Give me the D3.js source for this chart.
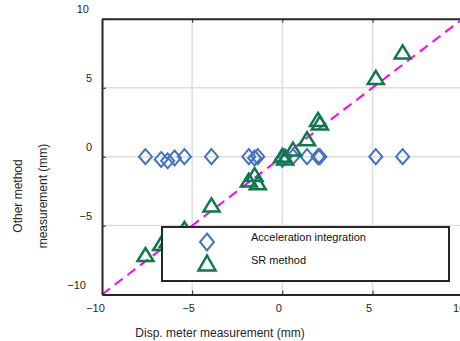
<!DOCTYPE html>
<html>
<head>
<meta charset="utf-8">
<script src="https://cdn.jsdelivr.net/npm/d3@7"></script>
<style>
  body { margin: 0; background: #fff; }
  svg { display: block; font-family: "Liberation Sans", Arial, sans-serif; }
</style>
</head>
<body>
<script>
// displacement meter readings (x) and the two other methods (y)
var dispMeter   = [-7.59, -6.72, -6.36, -5.98, -5.43, -3.93, -1.86, -1.54, -1.36, 0.0, 0.15, 0.59, 1.37, 1.98, 2.08, 5.18, 6.67];
var accelInteg  = [0, -0.2, -0.3, -0.1, 0, 0, 0, -0.1, 0, -0.2, 0, 0, 0, 0, 0, 0, 0];
var srMethod    = [-7.1, -6.3, -6.1, -5.8, -5.2, -3.5, -1.7, -1.3, -1.9, 0.1, -0.1, 0.55, 1.3, 2.7, 2.45, 5.75, 7.6];
var tickVals    = [-10, -5, 0, 5, 10];
var seriesNames = ['Acceleration integration', 'SR method'];

var width = 460, height = 341;
var ink = '#262626';

var x = d3.scaleLinear().domain([-10, 10]).range([102, 462.7]),
    y = d3.scaleLinear().domain([-10, 10]).range([294.5, 18.8]);

var svg = d3.select('body').append('svg')
    .attr('width', width)
    .attr('height', height);

// grid
svg.append('g').selectAll('line.gx')
    .data(tickVals.slice(1, 4))
  .enter().append('line')
    .attr('x1', function(d) { return x(d); })
    .attr('x2', function(d) { return x(d); })
    .attr('y1', y(10)).attr('y2', y(-10))
    .attr('stroke', '#dedede').attr('stroke-width', 1.5);
svg.append('g').selectAll('line.gy')
    .data(tickVals.slice(1, 4))
  .enter().append('line')
    .attr('y1', function(d) { return y(d); })
    .attr('y2', function(d) { return y(d); })
    .attr('x1', x(-10)).attr('x2', x(10))
    .attr('stroke', '#dedede').attr('stroke-width', 1.5);

// reference line y = x
svg.append('line')
    .attr('x1', x(-10)).attr('y1', y(-10))
    .attr('x2', x(10)).attr('y2', y(10))
    .attr('stroke', '#ff00ff').attr('stroke-width', 2)
    .attr('stroke-dasharray', '10,6');

var diamond = function(cx, cy, w, h) {
  return 'M' + cx + ',' + (cy - h / 2) + 'L' + (cx + w / 2) + ',' + cy +
         'L' + cx + ',' + (cy + h / 2) + 'L' + (cx - w / 2) + ',' + cy + 'Z';
};
var triangle = function(cx, cy, w, h) {
  return 'M' + cx + ',' + (cy - h / 2) + 'L' + (cx + w / 2) + ',' + (cy + h / 2) +
         'L' + (cx - w / 2) + ',' + (cy + h / 2) + 'Z';
};

// acceleration integration markers
svg.append('g').selectAll('path')
    .data(dispMeter)
  .enter().append('path')
    .attr('d', function(d, i) { return diamond(x(d), y(accelInteg[i]), 13, 15); })
    .attr('fill', 'none').attr('stroke', '#4472c4').attr('stroke-width', 2);

// SR method markers
svg.append('g').selectAll('path')
    .data(dispMeter)
  .enter().append('path')
    .attr('d', function(d, i) { return triangle(x(d), y(srMethod[i]), 16, 13); })
    .attr('fill', 'none').attr('stroke', '#0e7a4c').attr('stroke-width', 2.5)
    .attr('stroke-linejoin', 'miter');

// axes
var xAxis = svg.append('g')
    .attr('transform', 'translate(0,' + y(-10) + ')')
    .call(d3.axisBottom(x).tickValues(tickVals).tickSize(-4).tickSizeOuter(0).tickPadding(10));
var yAxis = svg.append('g')
    .attr('transform', 'translate(' + x(-10) + ',0)')
    .call(d3.axisLeft(y).tickValues(tickVals).tickSize(-4).tickSizeOuter(0).tickPadding(10));
var topAxis = svg.append('g')
    .attr('transform', 'translate(0,' + y(10) + ')')
    .call(d3.axisTop(x).tickValues(tickVals).tickSize(-4).tickSizeOuter(0).tickFormat(''));

[xAxis, yAxis, topAxis].forEach(function(g) {
  g.select('.domain').attr('stroke', ink).attr('stroke-width', 2);
  g.selectAll('.tick line').attr('stroke', ink).attr('stroke-width', 1);
  g.selectAll('.tick text').attr('fill', ink).style('font-size', '11px')
      .style('font-family', '"Liberation Sans", Arial, sans-serif');
});
xAxis.selectAll('.tick text')
    .attr('dx', function(d) { return d === -10 ? -7 : -4; });
yAxis.selectAll('.tick text')
    .attr('dy', '-0.1em')
    .attr('transform', 'translate(0,-5)')
    .attr('dx', function(d) { return d === 10 ? -3 : (d === -10 ? -6 : 0); });

// legend
var lg = svg.append('g');
lg.append('rect')
    .attr('x', 162).attr('y', 227).attr('width', 287).attr('height', 54)
    .attr('fill', '#fff').attr('stroke', ink).attr('stroke-width', 2);
lg.append('path')
    .attr('d', diamond(207, 242, 14, 17))
    .attr('fill', 'none').attr('stroke', '#4472c4').attr('stroke-width', 2);
lg.append('path')
    .attr('d', triangle(207, 263, 17, 15))
    .attr('fill', 'none').attr('stroke', '#0e7a4c').attr('stroke-width', 2.5);
lg.selectAll('text')
    .data(seriesNames)
  .enter().append('text')
    .attr('x', 251)
    .attr('y', function(d, i) { return 241 + i * 23; })
    .attr('fill', '#111')
    .style('font-size', '11px')
    .text(function(d) { return d; });

// axis titles
svg.append('text')
    .attr('x', 220).attr('y', 337)
    .attr('text-anchor', 'middle')
    .attr('fill', ink)
    .style('font-size', '12px')
    .text('Disp. meter measurement (mm)');
var yt = svg.append('text')
    .attr('transform', 'translate(0,196) rotate(-90)')
    .attr('text-anchor', 'middle')
    .attr('fill', ink)
    .style('font-size', '12px');
yt.append('tspan').attr('x', 0).attr('y', 22).text('Other method');
yt.append('tspan').attr('x', 0).attr('y', 47).text('measurement (mm)');
</script>
</body>
</html>
